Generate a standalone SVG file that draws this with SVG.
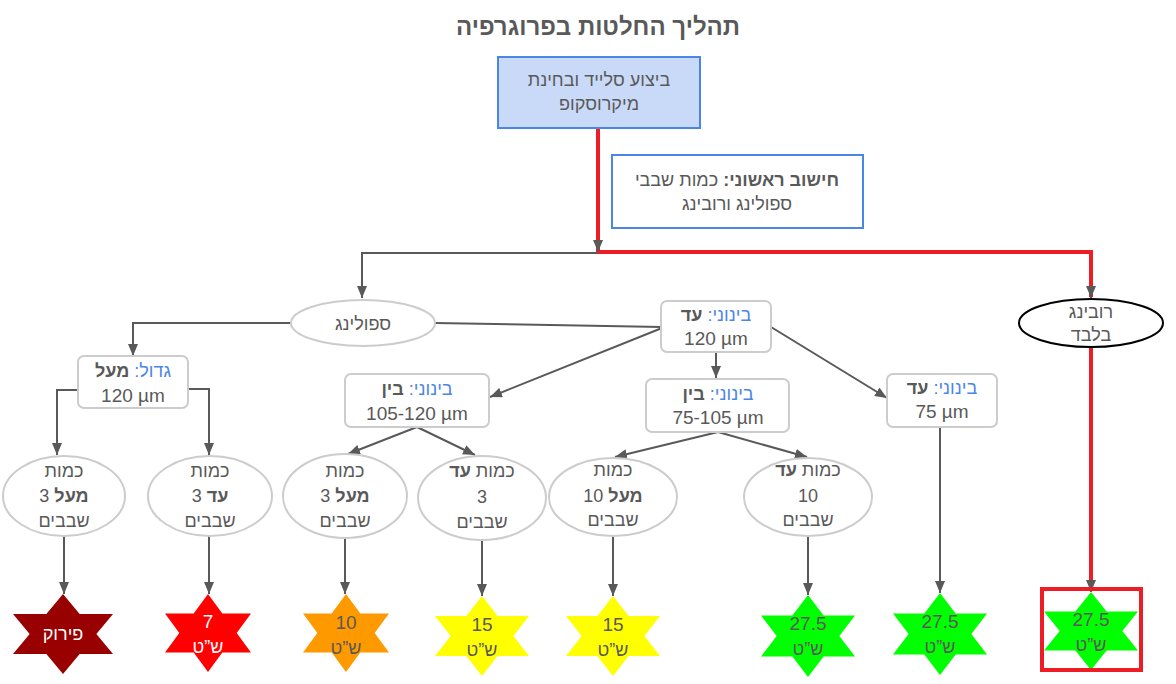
<svg xmlns="http://www.w3.org/2000/svg" xmlns:xlink="http://www.w3.org/1999/xlink" width="1176" height="684" viewBox="0 0 1176 684">
<style>
text{font-family:"Liberation Sans",Arial,sans-serif;font-size:18px;fill:#595959;text-anchor:middle}
.rtl{direction:rtl}
.num{font-size:19px}
.title{font-size:24px;font-weight:bold}
.b{font-weight:bold}
.blue{fill:#4a86e8}
.wt{fill:#ffffff}
.box{fill:#ffffff;stroke:#cccccc;stroke-width:2}
.ell{fill:#ffffff;stroke:#cccccc;stroke-width:2}
.con{fill:none;stroke:#595959;stroke-width:2}
.red{fill:none;stroke:#ee1c25;stroke-width:4}
</style>
<defs>
<marker id="arr" markerUnits="userSpaceOnUse" viewBox="0 0 12 10" markerWidth="12" markerHeight="10" refX="12" refY="5" orient="auto">
<path d="M0,0 L12,5 L0,10 z" fill="#595959"/>
</marker>
<polygon id="star" points="0,-1 0.333,-0.5 1,-0.5 0.667,0 1,0.5 0.333,0.5 0,1 -0.333,0.5 -1,0.5 -0.667,0 -1,-0.5 -0.333,-0.5"/>
</defs>
<rect width="1176" height="684" fill="#ffffff"/>
<text class="title rtl" x="598" y="35">תהליך החלטות בפרוגרפיה</text>

<g id="connectors">
<path class="red" d="M598,128 V252 H1091 V297"/>
<path class="con" d="M598,240 V252" marker-end="url(#arr)"/>
<path class="con" d="M1091,286 V298" marker-end="url(#arr)"/>
<path class="con" d="M597,253 H362 V298" marker-end="url(#arr)"/>
<path class="con" d="M291,323 H133 V356" marker-end="url(#arr)"/>
<path class="con" d="M435,323 L662,327"/>
<path class="con" d="M662,328 L490,397" marker-end="url(#arr)"/>
<path class="con" d="M716,353 V378" marker-end="url(#arr)"/>
<path class="con" d="M771,327 L887,398" marker-end="url(#arr)"/>
<path class="con" d="M78,390 H57 V455" marker-end="url(#arr)"/>
<path class="con" d="M188,389 H209 V455" marker-end="url(#arr)"/>
<path class="con" d="M417,427 L348,454" marker-end="url(#arr)"/>
<path class="con" d="M417,427 L475,455" marker-end="url(#arr)"/>
<path class="con" d="M718,432 L615,457" marker-end="url(#arr)"/>
<path class="con" d="M718,432 L807,457" marker-end="url(#arr)"/>
<path class="con" d="M64,536 V594" marker-end="url(#arr)"/>
<path class="con" d="M209,536 V594" marker-end="url(#arr)"/>
<path class="con" d="M345,538 V594" marker-end="url(#arr)"/>
<path class="con" d="M482,540 V596" marker-end="url(#arr)"/>
<path class="con" d="M613,535 V596" marker-end="url(#arr)"/>
<path class="con" d="M808,535 V595" marker-end="url(#arr)"/>
<path class="con" d="M940,427 V593" marker-end="url(#arr)"/>
<path class="red" d="M1091,347 V582"/>
<path class="con" d="M1091,580 V592" marker-end="url(#arr)"/>
</g>

<g id="n-top">
<rect x="498" y="57" width="202" height="71" fill="#c9daf8" stroke="#4a86e8" stroke-width="2"/>
<text class="rtl" x="599" y="86">ביצוע סלייד ובחינת</text>
<text class="rtl" x="599" y="110">מיקרוסקופ</text>
</g>

<g id="n-calc">
<rect x="612" y="155" width="251" height="73" fill="#ffffff" stroke="#4a86e8" stroke-width="2"/>
<text class="rtl" x="737" y="186"><tspan class="b">חישוב ראשוני:</tspan> כמות שבבי</text>
<text class="rtl" x="737" y="210">ספולינג ורובינג</text>
</g>

<g id="n-spoling">
<ellipse class="ell" cx="363" cy="323" rx="72" ry="23"/>
<text class="rtl" x="363" y="330">ספולינג</text>
</g>

<g id="n-rubbing">
<ellipse cx="1091" cy="323" rx="72" ry="24" fill="#ffffff" stroke="#000000" stroke-width="2"/>
<text class="rtl" x="1091" y="318">רובינג</text>
<text class="rtl" x="1091" y="341">בלבד</text>
</g>

<g id="n-big">
<rect class="box" x="78" y="356" width="110" height="52" rx="6"/>
<text class="rtl" x="133" y="377"><tspan class="blue">גדול:</tspan> <tspan class="b">מעל</tspan></text>
<text class="num" x="133" y="402">120 µm</text>
</g>

<g id="n-med120">
<rect class="box" x="661" y="301" width="110" height="51" rx="6"/>
<text class="rtl" x="716" y="321"><tspan class="blue">בינוני:</tspan> <tspan class="b">עד</tspan></text>
<text class="num" x="716" y="345">120 µm</text>
</g>

<g id="n-med105-120">
<rect class="box" x="345" y="374" width="144" height="53" rx="6"/>
<text class="rtl" x="417" y="395"><tspan class="blue">בינוני:</tspan> <tspan class="b">בין</tspan></text>
<text class="num" x="417" y="420">105-120 µm</text>
</g>

<g id="n-med75-105">
<rect class="box" x="646" y="379" width="143" height="53" rx="6"/>
<text class="rtl" x="718" y="400"><tspan class="blue">בינוני:</tspan> <tspan class="b">בין</tspan></text>
<text class="num" x="718" y="424">75-105 µm</text>
</g>

<g id="n-med75">
<rect class="box" x="887" y="374" width="110" height="53" rx="6"/>
<text class="rtl" x="942" y="394"><tspan class="blue">בינוני:</tspan> <tspan class="b">עד</tspan></text>
<text class="num" x="942" y="418">75 µm</text>
</g>

<g id="n-e1">
<ellipse class="ell" cx="64" cy="496" rx="61" ry="40"/>
<text class="rtl" x="64" y="477">כמות</text>
<text class="rtl" x="64" y="502"><tspan class="b">מעל</tspan> 3</text>
<text class="rtl" x="64" y="527">שבבים</text>
</g>
<g id="n-e2">
<ellipse class="ell" cx="210" cy="496" rx="62" ry="40"/>
<text class="rtl" x="210" y="477">כמות</text>
<text class="rtl" x="210" y="502"><tspan class="b">עד</tspan> 3</text>
<text class="rtl" x="210" y="527">שבבים</text>
</g>
<g id="n-e3">
<ellipse class="ell" cx="345" cy="496" rx="62" ry="42"/>
<text class="rtl" x="345" y="477">כמות</text>
<text class="rtl" x="345" y="502"><tspan class="b">מעל</tspan> 3</text>
<text class="rtl" x="345" y="527">שבבים</text>
</g>
<g id="n-e4">
<ellipse class="ell" cx="482" cy="498" rx="64" ry="42"/>
<text class="rtl" x="482" y="477">כמות <tspan class="b">עד</tspan></text>
<text x="482" y="503">3</text>
<text class="rtl" x="482" y="528">שבבים</text>
</g>
<g id="n-e5">
<ellipse class="ell" cx="613" cy="497" rx="64" ry="39"/>
<text class="rtl" x="613" y="476">כמות</text>
<text class="rtl" x="613" y="502"><tspan class="b">מעל</tspan> 10</text>
<text class="rtl" x="613" y="526">שבבים</text>
</g>
<g id="n-e6">
<ellipse class="ell" cx="808" cy="497" rx="64" ry="39"/>
<text class="rtl" x="808" y="476">כמות <tspan class="b">עד</tspan></text>
<text x="808" y="502">10</text>
<text class="rtl" x="808" y="526">שבבים</text>
</g>

<g id="s1">
<use href="#star" xlink:href="#star" transform="translate(63,634) scale(50,40)" fill="#990000"/>
<text class="rtl wt" x="63" y="640">פירוק</text>
</g>
<g id="s2">
<use href="#star" xlink:href="#star" transform="translate(208,633) scale(43,39)" fill="#ff0000"/>
<text class="wt num" x="208" y="628">7</text>
<text class="rtl wt" x="208" y="653">ש”ט</text>
</g>
<g id="s3">
<use href="#star" xlink:href="#star" transform="translate(346,633) scale(43,39)" fill="#ff9900"/>
<text class="num" x="346" y="629">10</text>
<text class="rtl" x="346" y="654">ש”ט</text>
</g>
<g id="s4">
<use href="#star" xlink:href="#star" transform="translate(482,636) scale(47,40)" fill="#ffff00"/>
<text class="num" x="482" y="631">15</text>
<text class="rtl" x="482" y="656">ש”ט</text>
</g>
<g id="s5">
<use href="#star" xlink:href="#star" transform="translate(613,636) scale(47,40)" fill="#ffff00"/>
<text class="num" x="613" y="631">15</text>
<text class="rtl" x="613" y="656">ש”ט</text>
</g>
<g id="s6">
<use href="#star" xlink:href="#star" transform="translate(808,636) scale(47,41)" fill="#00ff00"/>
<text class="num" x="808" y="630">27.5</text>
<text class="rtl" x="808" y="655">ש”ט</text>
</g>
<g id="s7">
<use href="#star" xlink:href="#star" transform="translate(940,634) scale(47,41)" fill="#00ff00"/>
<text class="num" x="940" y="628">27.5</text>
<text class="rtl" x="940" y="653">ש”ט</text>
</g>
<g id="s8">
<use href="#star" xlink:href="#star" transform="translate(1091,631) scale(47,39)" fill="#00ff00"/>
<text class="num" x="1091" y="626">27.5</text>
<text class="rtl" x="1091" y="651">ש”ט</text>
<rect x="1042" y="589" width="99" height="81" fill="none" stroke="#ee1c25" stroke-width="4"/>
</g>
</svg>
